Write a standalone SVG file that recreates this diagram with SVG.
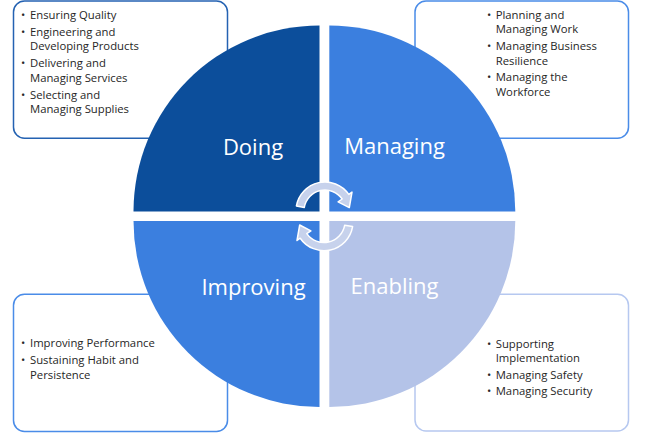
<svg xmlns="http://www.w3.org/2000/svg" width="650" height="434" viewBox="0 0 650 434">
<style>
.box{fill:#fff;stroke-width:1.5}
.t{font-family:"Open Sans","Noto Sans","DejaVu Sans",sans-serif;font-size:11.3px;fill:#262626}
.lbl{font-family:"Open Sans","Noto Sans","DejaVu Sans",sans-serif;font-size:22px;fill:#fff;text-anchor:middle}
.arr{fill:#C7D2EC;stroke:#fff;stroke-width:1.5;stroke-linejoin:round}
</style>
<defs>
<path id="arrow" class="arr" d="M296.4 206.0 A29 29 0 0 1 348.8 194.4 L352.0 192.1 L349.3 207.6 L338.1 201.8 L342.2 199.0 A21 21 0 0 0 304.3 207.4 Z"/>
</defs>
<rect width="650" height="434" fill="#fff"/>
<g id="box-doing">
<rect class="box" x="13.5" y="1" width="214" height="137.3" rx="11" stroke="#2462B2"/>
<text class="t" x="21" y="19">•</text><text class="t" x="30" y="19">Ensuring Quality</text>
<text class="t" x="21" y="35.7">•</text><text class="t" x="30" y="35.7">Engineering and</text>
<text class="t" x="30" y="50">Developing Products</text>
<text class="t" x="21" y="67.3">•</text><text class="t" x="30" y="67.3">Delivering and</text>
<text class="t" x="30" y="81.7">Managing Services</text>
<text class="t" x="21" y="99">•</text><text class="t" x="30" y="99">Selecting and</text>
<text class="t" x="30" y="113.3">Managing Supplies</text>
</g>
<g id="box-managing">
<rect class="box" x="415" y="1" width="213.5" height="137.3" rx="11" stroke="#4A8CE8"/>
<text class="t" x="487" y="18.7">•</text><text class="t" x="495.7" y="18.7">Planning and</text>
<text class="t" x="495.7" y="33.1">Managing Work</text>
<text class="t" x="487" y="50">•</text><text class="t" x="495.7" y="50">Managing Business</text>
<text class="t" x="495.7" y="64.6">Resilience</text>
<text class="t" x="487" y="81.2">•</text><text class="t" x="495.7" y="81.2">Managing the</text>
<text class="t" x="495.7" y="95.8">Workforce</text>
</g>
<g id="box-improving">
<rect class="box" x="13.5" y="294.3" width="214" height="137.2" rx="11" stroke="#4A8CE8"/>
<text class="t" x="21" y="347">•</text><text class="t" x="30" y="347">Improving Performance</text>
<text class="t" x="21" y="364">•</text><text class="t" x="30" y="364">Sustaining Habit and</text>
<text class="t" x="30" y="378.5">Persistence</text>
</g>
<g id="box-enabling">
<rect class="box" x="415" y="294.3" width="213.5" height="136.7" rx="11" stroke="#B6C8F0"/>
<text class="t" x="487" y="347.5">•</text><text class="t" x="495.7" y="347.5">Supporting</text>
<text class="t" x="495.7" y="362">Implementation</text>
<text class="t" x="487" y="378.7">•</text><text class="t" x="495.7" y="378.7">Managing Safety</text>
<text class="t" x="487" y="395">•</text><text class="t" x="495.7" y="395">Managing Security</text>
</g>
<g id="doing">
<path d="M319.5 211.5 H133.5 A186 186 0 0 1 319.5 25.5 Z" fill="#0C4E9B"/>
<text class="lbl" x="253" y="154.5">Doing</text>
</g>
<g id="managing">
<path d="M329.3 211.5 V25.5 A186 186 0 0 1 515.3 211.5 Z" fill="#3B7FDF"/>
<text class="lbl" x="394.5" y="153.5">Managing</text>
</g>
<g id="improving">
<path d="M319.5 221 V407 A186 186 0 0 1 133.5 221 Z" fill="#3B7FDF"/>
<text class="lbl" x="253.5" y="295.3">Improving</text>
</g>
<g id="enabling">
<path d="M329.3 221 H515.3 A186 186 0 0 1 329.3 407 Z" fill="#B4C3E8"/>
<text class="lbl" x="394.5" y="294.3">Enabling</text>
</g>
<g id="connectors">
<use href="#arrow"/>
<use href="#arrow" transform="rotate(180 324.5 216.3)"/>
</g>
</svg>
